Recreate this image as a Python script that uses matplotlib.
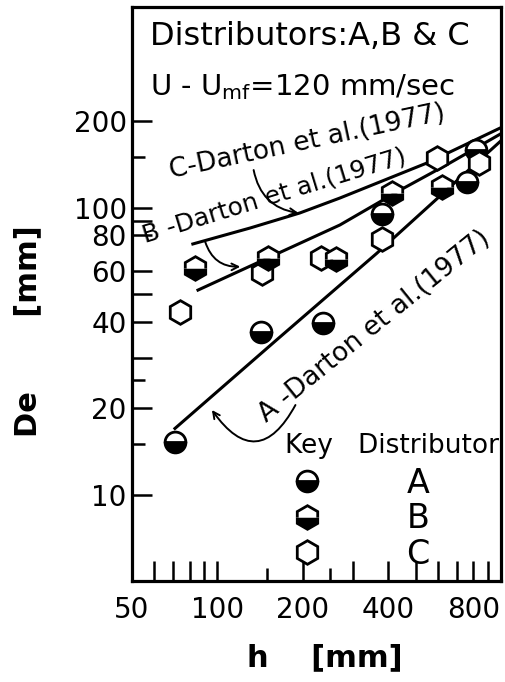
import matplotlib
matplotlib.use('Agg')
import matplotlib.pyplot as plt
from matplotlib.lines import Line2D
from matplotlib.ticker import FixedLocator, FixedFormatter, NullFormatter

plt.rcParams['font.family'] = 'DejaVu Sans'
plt.rcParams['mathtext.fontset'] = 'dejavusans'

# measured bubble diameters, h [mm] vs De [mm]
a_h = [71, 143, 236, 380, 761, 817]
a_de = [15.3, 37.0, 39.7, 95, 123, 159]
b_h = [83.6, 151, 262, 412, 622]
b_de = [61.5, 66.6, 66.2, 112, 118]
c_h = [74, 143.5, 233, 380, 597, 834]
c_de = [43.4, 59, 66.6, 78, 148.5, 142.7]

# Darton et al. (1977) curves
line_a_h = [71, 162, 365, 1000]
line_a_de = [17.0, 34.6, 69.3, 171]
line_b_h = [85.6, 153.6, 270.7, 440.6, 660, 1000]
line_b_de = [51.6, 67.3, 87, 115, 143, 181]
line_c_h = [82.1, 130.6, 195.6, 270.7, 548, 1000]
line_c_de = [74.7, 84.9, 95.8, 108, 143, 190]

x_major = [50, 100, 200, 400, 800]
x_labels = ['50', '100', '200', '400', '800']
x_minor = [60, 70, 80, 90, 150, 250, 300, 500, 600, 700, 900]
x_short = [150, 250]
y_major = [10, 20, 40, 60, 80, 100, 200]
y_labels = ['10', '20', '40', '60', '80', '100', '200']
y_minor = [15, 25, 30, 50, 90, 150]
y_short = [15, 25, 150]

TICK_FS = 20
LONG_TICK = 14.5
SHORT_TICK = 9.5

fig = plt.figure(figsize=(5.06, 6.82), dpi=100)
ax = fig.add_axes([0.2603, 0.1481, 0.7298, 0.8416])
ax.set_xscale('log')
ax.set_yscale('log')
ax.set_xlim(50, 1000)
ax.set_ylim(5, 500)

for s in ax.spines.values():
    s.set_linewidth(2.3)

# correlation lines
for hx, dy in [(line_a_h, line_a_de), (line_b_h, line_b_de), (line_c_h, line_c_de)]:
    ax.plot(hx, dy, color='black', lw=2.2, zorder=2)

sty_a = dict(marker='o', ms=15, mec='black', mew=2.0, mfc='black',
             markerfacecoloralt='white', fillstyle='bottom', ls='none')
sty_b = dict(marker='h', ms=17, mec='black', mew=2.0, mfc='black',
             markerfacecoloralt='white', fillstyle='bottom', ls='none')
sty_c = dict(marker='h', ms=17, mec='black', mew=2.0, mfc='white', ls='none')

ax.plot(a_h, a_de, zorder=3, **sty_a)
ax.plot(c_h, c_de, zorder=4, **sty_c)
ax.plot(b_h, b_de, zorder=5, **sty_b)

# ticks
ax.xaxis.set_major_locator(FixedLocator(x_major))
ax.xaxis.set_major_formatter(FixedFormatter(x_labels))
ax.xaxis.set_minor_locator(FixedLocator(x_minor))
ax.xaxis.set_minor_formatter(NullFormatter())
ax.yaxis.set_major_locator(FixedLocator(y_major))
ax.yaxis.set_major_formatter(FixedFormatter(y_labels))
ax.yaxis.set_minor_locator(FixedLocator(y_minor))
ax.yaxis.set_minor_formatter(NullFormatter())
ax.tick_params(which='both', direction='in', length=LONG_TICK, width=1.8,
               top=False, right=False, labelsize=TICK_FS)
ax.tick_params(axis='x', which='major', pad=11)
ax.tick_params(axis='y', which='major', pad=3.5)

for t, v in zip(ax.xaxis.get_minor_ticks(len(x_minor)), x_minor):
    if v in x_short:
        t.tick1line.set_markersize(SHORT_TICK)
for t, v in zip(ax.yaxis.get_minor_ticks(len(y_minor)), y_minor):
    if v in y_short:
        t.tick1line.set_markersize(SHORT_TICK)

# axis labels
ax.set_ylabel('De       [mm]', fontsize=22, fontweight='bold')
ax.yaxis.set_label_coords(-0.243, 0.4355)
ax.set_xlabel('h    [mm]', fontsize=22, fontweight='bold')
ax.xaxis.set_label_coords(0.5234, -0.108)

# header text
ax.text(0.0497, 0.934, 'Distributors:A,B & C', transform=ax.transAxes,
        fontsize=23, ha='left', va='baseline')
ax.text(0.0497, 0.8467, r'U - U$_{\mathrm{mf}}$=120 mm/sec', transform=ax.transAxes,
        fontsize=21, ha='left', va='baseline')

# curve labels
ax.text(0.4746, 0.7648, 'C-Darton et al.(1977)', transform=ax.transAxes, fontsize=19,
        rotation=12, rotation_mode='anchor', ha='center', va='center')
ax.text(0.3865, 0.6716, 'B -Darton et al.(1977)', transform=ax.transAxes, fontsize=18,
        rotation=17, rotation_mode='anchor', ha='center', va='center')
ax.text(0.6565, 0.4434, 'A -Darton et al.(1977)', transform=ax.transAxes, fontsize=19,
        rotation=39, rotation_mode='anchor', ha='center', va='center')

arrow_kw = dict(arrowstyle='->', lw=1.4, color='black', shrinkA=0, shrinkB=0,
                mutation_scale=12)
ax.annotate('', xy=(0.4517, 0.6411), xytext=(0.3302, 0.716),
            xycoords='axes fraction', textcoords='axes fraction',
            arrowprops=dict(connectionstyle='arc3,rad=0.35', **arrow_kw))
ax.annotate('', xy=(0.294, 0.5476), xytext=(0.199, 0.591),
            xycoords='axes fraction', textcoords='axes fraction',
            arrowprops=dict(connectionstyle='arc3,rad=0.37', **arrow_kw))
ax.annotate('', xy=(0.2172, 0.2979), xytext=(0.4434, 0.3066),
            xycoords='axes fraction', textcoords='axes fraction',
            arrowprops=dict(connectionstyle='arc3,rad=-0.8', **arrow_kw))

# key
ax.text(0.415, 0.223, 'Key   Distributor', transform=ax.transAxes,
        fontsize=19, ha='left', va='baseline')
handles = [Line2D([], [], **sty_a), Line2D([], [], **sty_b), Line2D([], [], **sty_c)]
ax.legend(handles, ['A', 'B', 'C'], loc='upper left',
          bbox_to_anchor=(0.416, 0.199), frameon=False, fontsize=24,
          handlelength=1.33, handletextpad=2.3,
          labelspacing=0.08, borderpad=0, borderaxespad=0)

fig.savefig('out.png', dpi=100)
